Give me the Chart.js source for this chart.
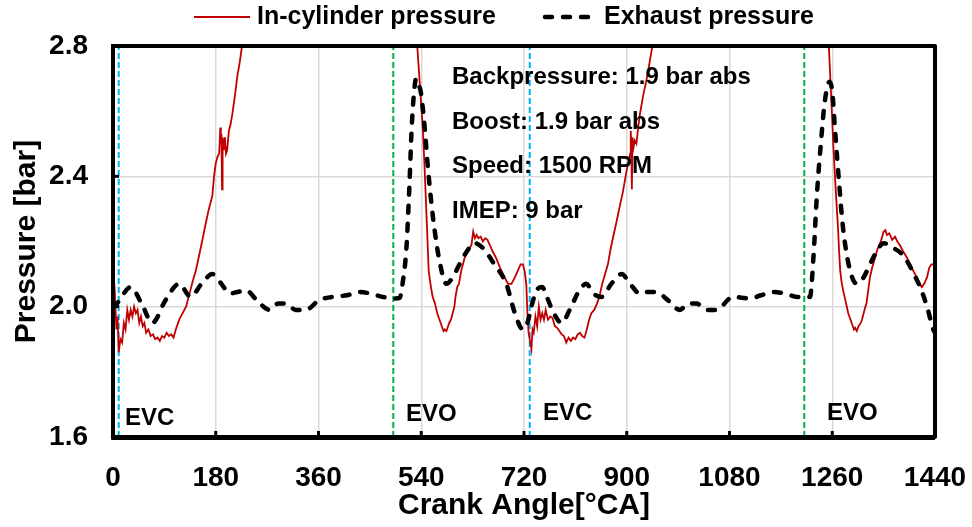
<!DOCTYPE html>
<html>
<head>
<meta charset="utf-8">
<script src="https://cdn.jsdelivr.net/npm/chart.js@4.4.1/dist/chart.umd.min.js"></script>
<style>
  html, body { margin: 0; padding: 0; background: #fff; }
</style>
</head>
<body>
<canvas id="chart" width="972" height="527"></canvas>
<script>
const FONT = "'Liberation Sans', Arial, sans-serif";

// exhaust pressure, crank angle [°CA] and pressure [bar]
const exhaustAngle = [0, 7, 31, 50, 69, 92, 116, 136, 155, 174, 190, 204, 218, 233, 252, 274, 290, 303, 320, 338,
  361, 385, 410, 431, 452, 472, 493, 502, 508, 514, 519, 523, 527, 531, 536, 540, 546, 551, 557, 563,
  572, 584, 595, 607, 620, 633, 648, 668, 689, 704, 718, 726, 733, 742, 752, 760, 772, 786, 800, 817,
  829, 842, 856, 873, 891, 906, 923, 937, 952, 972, 993, 1008, 1022, 1040, 1057, 1086, 1116, 1135, 1157, 1178,
  1198, 1221, 1227, 1233, 1240, 1247, 1255, 1260, 1265, 1272, 1279, 1290, 1303, 1315, 1326, 1338, 1350, 1367, 1380, 1391,
  1403, 1414, 1426, 1437, 1440];
const exhaustP = [2.00, 2.01, 2.06, 2.01, 1.95, 2.02, 2.07, 2.03, 2.07, 2.10, 2.07, 2.04, 2.045, 2.05, 2.02, 1.99, 2.01, 2.01, 1.99, 1.99,
  2.02, 2.03, 2.035, 2.045, 2.04, 2.03, 2.025, 2.027, 2.08, 2.18, 2.36, 2.54, 2.65, 2.70, 2.68, 2.65, 2.55, 2.44, 2.33, 2.24,
  2.14, 2.07, 2.09, 2.13, 2.17, 2.195, 2.18, 2.13, 2.07, 1.98, 1.93, 1.95, 2.00, 2.05, 2.06, 2.03, 1.98, 1.95, 1.99, 2.05,
  2.07, 2.04, 2.03, 2.07, 2.10, 2.07, 2.04, 2.045, 2.045, 2.02, 1.99, 2.01, 2.01, 1.99, 1.99, 2.03, 2.025, 2.035, 2.045, 2.04,
  2.03, 2.03, 2.15, 2.34, 2.50, 2.63, 2.69, 2.66, 2.54, 2.38, 2.24, 2.12, 2.07, 2.09, 2.13, 2.17, 2.195, 2.18, 2.165, 2.14,
  2.10, 2.06, 2.00, 1.93, 1.92];

// in-cylinder pressure (goes far off the top between the clipped parts)
const cylAngle = [0, 3, 6, 8, 10, 13, 16, 19, 22, 25, 28, 31, 34, 37, 40, 43, 46, 49, 52, 55,
  58, 62, 66, 70, 74, 78, 82, 86, 90, 94, 98, 102, 106, 110, 116, 122, 128, 134, 140, 145,
  150, 156, 163, 168, 174, 177, 180, 183, 186, 188, 189, 190, 191, 192, 194, 196, 198, 200, 203, 206,
  209, 213, 218, 222, 226, 240, 300, 360, 420, 500, 525,
  533, 538, 543, 546, 549, 551, 553, 557, 560, 564, 568, 572, 576, 579, 581, 584, 587, 589, 592, 595,
  598, 600, 603, 606, 610, 616, 622, 628, 631, 634, 637, 640, 644, 648, 652, 656, 660, 665, 671, 678,
  686, 692, 698, 704, 709, 714, 718, 721, 724, 726, 728, 730, 733, 735, 737, 740, 743, 746, 749, 752,
  755, 758, 762, 766, 770, 774, 778, 782, 786, 790, 794, 798, 802, 806, 810, 814, 818, 822, 826, 830,
  834, 838, 843, 848, 852, 857, 862, 867, 872, 877, 882, 888, 893, 897, 900, 904, 906, 907, 908, 909,
  910, 912, 914, 917, 920, 923, 929, 935, 940, 945, 955, 1020, 1080, 1140, 1220, 1246,
  1254, 1258, 1262, 1266, 1270, 1272, 1274, 1276, 1279, 1283, 1288, 1292, 1296, 1298, 1300, 1303, 1306, 1310, 1312, 1315,
  1318, 1320, 1323, 1326, 1330, 1335, 1339, 1345, 1350, 1353, 1356, 1360, 1365, 1370, 1374, 1378, 1384, 1391, 1396, 1402,
  1408, 1413, 1417, 1421, 1426, 1430, 1434, 1437, 1440];
const cylP = [2.13, 2.05, 1.93, 1.97, 1.86, 1.90, 1.89, 1.95, 1.93, 1.99, 1.96, 1.99, 1.97, 2.00, 1.98, 1.99, 1.95, 1.97, 1.94, 1.95,
  1.92, 1.93, 1.91, 1.915, 1.90, 1.905, 1.895, 1.91, 1.905, 1.92, 1.91, 1.915, 1.905, 1.93, 1.96, 1.98, 2.00, 2.04, 2.08, 2.11,
  2.15, 2.20, 2.26, 2.30, 2.34, 2.40, 2.44, 2.46, 2.47, 2.55, 2.50, 2.53, 2.36, 2.52, 2.48, 2.52, 2.47, 2.48, 2.54, 2.56,
  2.59, 2.64, 2.71, 2.75, 2.80, 3.10, 8.0, 60.0, 12.0, 4.0, 3.2,
  2.80, 2.67, 2.54, 2.42, 2.29, 2.20, 2.11, 2.06, 2.03, 2.01, 1.98, 1.96, 1.94, 1.925, 1.93, 1.925, 1.94, 1.95, 1.96, 1.98,
  2.00, 2.03, 2.06, 2.07, 2.11, 2.15, 2.17, 2.19, 2.23, 2.21, 2.22, 2.21, 2.215, 2.20, 2.21, 2.205, 2.19, 2.17, 2.15, 2.12,
  2.09, 2.07, 2.07, 2.09, 2.11, 2.13, 2.13, 2.11, 2.07, 1.98, 1.92, 1.90, 1.87, 1.93, 1.92, 1.97, 1.94, 2.00, 1.96, 1.98,
  1.96, 1.99, 1.96, 1.97, 1.965, 1.94, 1.935, 1.925, 1.915, 1.91, 1.89, 1.905, 1.895, 1.905, 1.90, 1.915, 1.92, 1.91, 1.905, 1.93,
  1.96, 1.98, 1.99, 2.01, 2.03, 2.07, 2.10, 2.13, 2.18, 2.22, 2.26, 2.31, 2.35, 2.39, 2.42, 2.45, 2.47, 2.54, 2.49, 2.36,
  2.52, 2.49, 2.51, 2.50, 2.55, 2.59, 2.65, 2.70, 2.75, 2.80, 3.10, 8.0, 60.0, 12.0, 4.0, 3.1,
  2.80, 2.65, 2.49, 2.36, 2.245, 2.17, 2.11, 2.08, 2.05, 2.02, 1.98, 1.96, 1.94, 1.93, 1.935, 1.925, 1.94, 1.95, 1.96, 1.98,
  2.00, 2.01, 2.05, 2.09, 2.12, 2.15, 2.175, 2.20, 2.23, 2.235, 2.22, 2.225, 2.205, 2.215, 2.20, 2.19, 2.17, 2.15, 2.13, 2.11,
  2.09, 2.07, 2.06, 2.07, 2.09, 2.12, 2.13, 2.13, 2.12];

// valve events
const evcAngles = [10, 730];
const evoAngles = [491, 1211];
const eventLabels = ["EVC", "EVO", "EVC", "EVO"];

const infoLines = ["Backpressure: 1.9 bar abs", "Boost: 1.9 bar abs", "Speed: 1500 RPM", "IMEP: 9 bar"];
const legendLabels = ["In-cylinder pressure", "Exhaust pressure"];

const xTicks = [0, 180, 360, 540, 720, 900, 1080, 1260, 1440];
const yTicks = [1.6, 2.0, 2.4, 2.8];

const toPoints = (xs, ys) => xs.map((x, i) => ({ x, y: ys[i] }));
const vline = (a) => [{ x: a, y: 1.6 }, { x: a, y: 2.8 }];

const datasets = [
    {
        label: legendLabels[1],
        data: toPoints(exhaustAngle, exhaustP),
        borderColor: "#000",
        borderWidth: 4.5,
        borderDash: [7, 11],
        borderCapStyle: "round",
        cubicInterpolationMode: "monotone",
        pointRadius: 0,
    },
    {
        label: legendLabels[0],
        data: toPoints(cylAngle, cylP),
        borderColor: "#C00000",
        borderWidth: 1.8,
        tension: 0,
        pointRadius: 0,
    },
];
evcAngles.forEach((a) => datasets.push({
    data: vline(a), borderColor: "#00B0F0", borderWidth: 2, borderDash: [6, 3], pointRadius: 0,
}));
evoAngles.forEach((a) => datasets.push({
    data: vline(a), borderColor: "#00B050", borderWidth: 2, borderDash: [6, 3], pointRadius: 0,
}));

const decorations = {
    id: "decorations",
    afterDatasetsDraw(chart) {
        const { ctx, chartArea: area, scales } = chart;
        const xs = scales.x, ys = scales.y;
        ctx.save();

        // inner tick marks
        ctx.strokeStyle = "#000";
        ctx.lineWidth = 3;
        xTicks.forEach((t) => {
            const px = xs.getPixelForValue(t);
            ctx.beginPath();
            ctx.moveTo(px, area.bottom);
            ctx.lineTo(px, area.bottom - 6);
            ctx.stroke();
        });
        yTicks.forEach((t) => {
            const py = ys.getPixelForValue(t);
            ctx.beginPath();
            ctx.moveTo(area.left, py);
            ctx.lineTo(area.left + 6, py);
            ctx.stroke();
        });

        // frame
        ctx.lineWidth = 4;
        ctx.lineJoin = "round";
        ctx.strokeRect(area.left, area.top, area.right - area.left, area.bottom - area.top);
        ctx.lineWidth = 2;
        ctx.beginPath();
        ctx.moveTo(area.left - 1, area.top - 2);
        ctx.lineTo(area.left - 1, area.bottom + 2);
        ctx.lineTo(area.right, area.bottom + 2);
        ctx.stroke();

        // info text
        ctx.fillStyle = "#000";
        ctx.font = "bold 24px " + FONT;
        ctx.textAlign = "left";
        ctx.textBaseline = "alphabetic";
        infoLines.forEach((s, i) => ctx.fillText(s, 452, 84 + i * 44.7));

        // valve event labels
        const labelX = [125, 406, 543, 827];
        const labelY = [425, 421, 420, 420];
        eventLabels.forEach((s, i) => ctx.fillText(s, labelX[i], labelY[i]));

        // legend
        ctx.font = "bold 25px " + FONT;
        ctx.textBaseline = "middle";
        ctx.strokeStyle = "#C00000";
        ctx.lineWidth = 2;
        ctx.beginPath();
        ctx.moveTo(194, 17);
        ctx.lineTo(250, 17);
        ctx.stroke();
        ctx.fillText(legendLabels[0], 257, 17);

        ctx.strokeStyle = "#000";
        ctx.lineWidth = 4.5;
        ctx.lineCap = "round";
        ctx.setLineDash([7, 11]);
        ctx.beginPath();
        ctx.moveTo(545, 17);
        ctx.lineTo(595, 17);
        ctx.stroke();
        ctx.setLineDash([]);
        ctx.fillText(legendLabels[1], 604, 17);

        ctx.restore();
    },
};

new Chart(document.getElementById("chart"), {
    type: "line",
    data: { datasets },
    options: {
        responsive: false,
        animation: false,
        layout: { padding: { left: 0, right: 0, top: 46, bottom: 0 } },
        plugins: {
            legend: { display: false },
            tooltip: { enabled: false },
        },
        scales: {
            x: {
                type: "linear",
                min: 0,
                max: 1440,
                afterFit: (scale) => {
                    scale.height = 90;
                    scale.paddingLeft = 0;
                    scale.paddingRight = 37;
                },
                afterBuildTicks: (scale) => { scale.ticks = xTicks.map((v) => ({ value: v })); },
                grid: { color: "#d9d9d9", lineWidth: 1.5, drawTicks: false },
                border: { display: false },
                ticks: {
                    padding: 24,
                    color: "#000",
                    font: { family: FONT, size: 28, weight: "bold" },
                    maxRotation: 0,
                    callback: (v) => String(v),
                },
                title: {
                    display: true,
                    text: "Crank Angle[°CA]",
                    color: "#000",
                    font: { family: FONT, size: 30, weight: "bold" },
                    padding: { top: 0, bottom: 3 },
                },
            },
            y: {
                min: 1.6,
                max: 2.8,
                afterFit: (scale) => { scale.width = 113; },
                afterBuildTicks: (scale) => { scale.ticks = yTicks.map((v) => ({ value: v })); },
                grid: { color: "#d9d9d9", lineWidth: 1.5, drawTicks: false },
                border: { display: false },
                ticks: {
                    padding: 25,
                    color: "#000",
                    font: { family: FONT, size: 28, weight: "bold" },
                    callback: (v) => v.toFixed(1),
                },
                title: {
                    display: true,
                    text: "Pressure [bar]",
                    color: "#000",
                    font: { family: FONT, size: 30, weight: "bold" },
                    padding: { top: 9, bottom: 0 },
                },
            },
        },
    },
    plugins: [decorations],
});
</script>
</body>
</html>
